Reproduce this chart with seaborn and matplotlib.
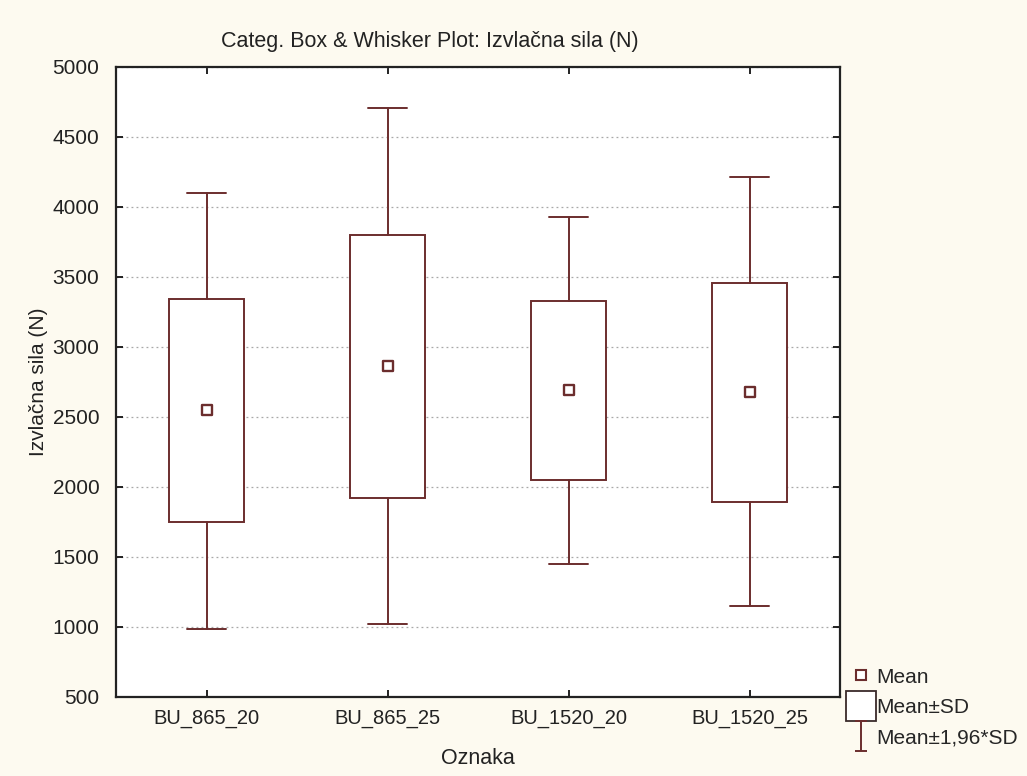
import numpy as np
import pandas as pd
import matplotlib
matplotlib.use("Agg")
import matplotlib.pyplot as plt
from matplotlib.path import Path
from matplotlib.lines import Line2D
import seaborn as sns

categories = ["BU_865_20", "BU_865_25", "BU_1520_20", "BU_1520_25"]
means = [2550, 2865, 2695, 2680]
sd_low = [1750, 1925, 2050, 1893]
sd_high = [3345, 3800, 3325, 3455]
ci_low = [985, 1018, 1450, 1148]
ci_high = [4100, 4705, 3930, 4212]

title = "Categ. Box & Whisker Plot: Izvlačna sila (N)"
xlabel = "Oznaka"
ylabel = "Izvlačna sila (N)"
yticks = [500, 1000, 1500, 2000, 2500, 3000, 3500, 4000, 4500, 5000]

line_col = "#6B2D2D"
bg = "#FDFAF0"

sns.set_style("ticks")
plt.rcParams["font.family"] = ["Liberation Sans", "DejaVu Sans"]

fig = plt.figure(figsize=(10.27, 7.76), dpi=100, facecolor=bg)
ax = fig.add_axes([116 / 1027, 1 - 697 / 776, (840 - 116) / 1027, (697 - 67) / 776])
ax.set_facecolor("white")

pos = np.arange(len(categories))
stats = []
for c, m, lo, hi, wl, wh in zip(categories, means, sd_low, sd_high, ci_low, ci_high):
    stats.append(dict(label=c, med=m, mean=m, q1=lo, q3=hi, whislo=wl, whishi=wh, fliers=[]))

ax.bxp(stats, positions=pos, widths=0.41, showmeans=False, showfliers=False,
       patch_artist=True,
       boxprops=dict(facecolor="white", edgecolor=line_col, linewidth=1.4),
       whiskerprops=dict(color=line_col, linewidth=1.4),
       capprops=dict(color=line_col, linewidth=1.4),
       medianprops=dict(linewidth=0),
       capwidths=0.21, zorder=3)

df = pd.DataFrame({"pos": pos, "mean": means})
sns.scatterplot(data=df, x="pos", y="mean", marker="s", s=48, facecolor="white",
                edgecolor=line_col, linewidth=1.7, ax=ax, zorder=4, legend=False)

ax.set_xlim(-0.5, len(categories) - 0.5)
ax.set_ylim(500, 5000)
ax.set_yticks(yticks)
ax.set_xticks(pos)
ax.set_xticklabels(categories)
ax.yaxis.grid(True, linestyle=(0, (1.5, 2.5)), color="#a8a8a8", linewidth=0.9)
ax.set_axisbelow(True)
ax.tick_params(axis="both", direction="in", length=5, width=1.3,
               colors="#111111", top=True, right=True, labelcolor="#222222")
ax.tick_params(axis="y", labelsize=15, pad=12)
ax.tick_params(axis="x", labelsize=14.5, pad=9)
for s in ax.spines.values():
    s.set_linewidth(1.6)
    s.set_color("#222222")

ax.set_xlabel(xlabel, fontsize=15.5, color="#222222", labelpad=14)
ax.set_ylabel(ylabel, fontsize=15, color="#222222", labelpad=3)
fig.text(430 / 1027, 1 - 42 / 776, title, ha="center", va="center", fontsize=15.5, color="#222222")

ibeam = Path([(-0.4, 1), (0.4, 1), (0, 1), (0, -1), (-0.4, -1), (0.4, -1)],
             [Path.MOVETO, Path.LINETO, Path.MOVETO, Path.LINETO, Path.MOVETO, Path.LINETO])
handles = [
    Line2D([], [], marker="s", linestyle="none", markersize=6.5, markerfacecolor="white",
           markeredgecolor=line_col, markeredgewidth=1.5),
    Line2D([], [], marker="s", linestyle="none", markersize=21, markerfacecolor="white",
           markeredgecolor="#3a2a2a", markeredgewidth=1.3),
    Line2D([], [], marker=ibeam, linestyle="none", markersize=22, markerfacecolor="none",
           markeredgecolor=line_col, markeredgewidth=1.4),
]
labels = ["Mean", "Mean±SD", "Mean±1,96*SD"]
fig.legend(handles, labels, loc="lower left", bbox_to_anchor=(840 / 1027, 1 - 756 / 776),
           frameon=False, fontsize=15, handlelength=1.2, handletextpad=0.15,
           labelspacing=0.55, borderaxespad=0)

fig.savefig("out.png", dpi=100, facecolor=bg)
